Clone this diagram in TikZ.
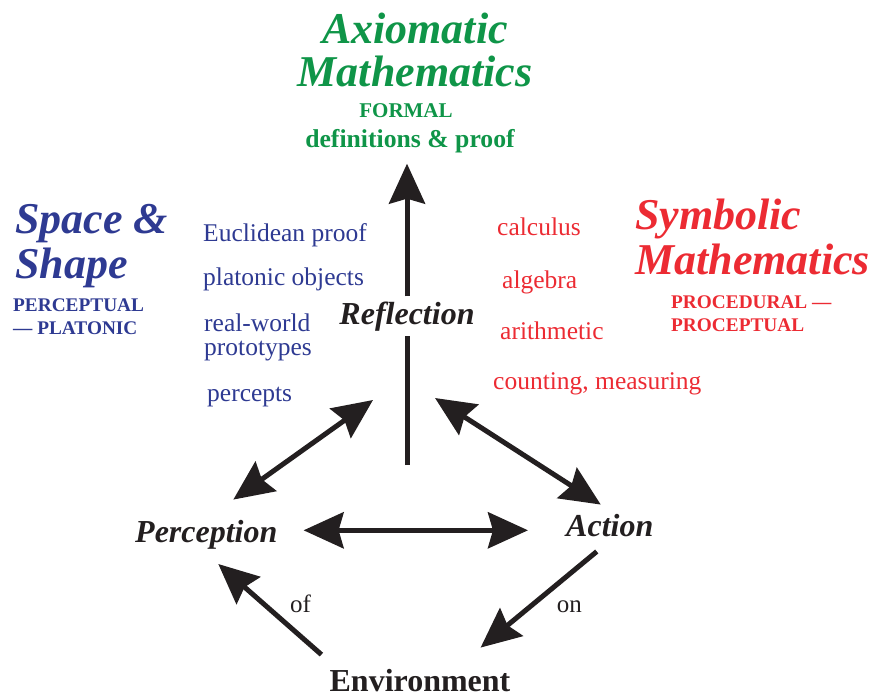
\documentclass[tikz,border=0pt]{standalone}
\usepackage{fontspec}
\setmainfont{Liberation Serif}
\usetikzlibrary{arrows.meta,positioning}
\definecolor{axGreen}{HTML}{0F9548}
\definecolor{spBlue}{HTML}{2E3A92}
\definecolor{syRed}{HTML}{EC2B33}
\definecolor{inkBlack}{HTML}{231F20}
\tikzset{
  worldtitle/.style={font=\fontsize{44}{44.5}\selectfont\bfseries\itshape, inner sep=0pt, align=left},
  worldtag/.style={font=\fontsize{19.3}{23}\selectfont\bfseries, inner sep=0pt, align=left},
  example/.style={font=\fontsize{25.5}{24}\selectfont, inner sep=0pt, align=left},
  stage/.style={font=\fontsize{32}{32}\selectfont\bfseries\itshape, inner sep=0pt, text=inkBlack},
  edgelabel/.style={font=\fontsize{25}{25}\selectfont, text=inkBlack, inner sep=0pt, anchor=base west},
  bigarrow/.style={draw=inkBlack, line width=5pt,
    -{Stealth[length=40pt,width=36pt,inset=5pt]}},
  twoarrow/.style={bigarrow,
    {Stealth[length=40pt,width=36pt,inset=5pt]}-{Stealth[length=40pt,width=36pt,inset=5pt]}}
}
\begin{document}
\begin{tikzpicture}[x=1pt,y=-1pt]
  \useasboundingbox (0,0) rectangle (876,696);
  % axiomatic world
  \node[worldtitle, align=center, text=axGreen, anchor=base, font=\fontsize{44}{42.5}\selectfont\bfseries\itshape] (axiom) at (415,86) {Axiomatic\\Mathematics};
  \node[worldtag, text=axGreen, anchor=base, font=\fontsize{21}{21}\selectfont\bfseries] (formal) at (406,117) {FORMAL};
  \node[worldtag, text=axGreen, anchor=base, font=\fontsize{25.7}{25.7}\selectfont\bfseries] (defs) at (410,147) {definitions \& proof};
  % space & shape
  \node[worldtitle, text=spBlue, anchor=base west] (space) at (15,278) {Space \&\\Shape};
  \node[worldtag, text=spBlue, anchor=base west] (percplat) at (13,334) {PERCEPTUAL\\— PLATONIC};
  \node[example, text=spBlue, anchor=base west] (euclid) at (203,241) {Euclidean proof};
  \node[example, text=spBlue, anchor=base west] (platonic) at (203,285) {platonic objects};
  \node[example, text=spBlue, anchor=base west] (realworld) at (204,355) {real-world\\prototypes};
  \node[example, text=spBlue, anchor=base west] (percepts) at (207,401) {percepts};
  % symbolic mathematics
  \node[worldtitle, text=syRed, anchor=base west] (symbolic) at (635,274) {Symbolic\\Mathematics};
  \node[worldtag, text=syRed, anchor=base west] (procept) at (671,331) {PROCEDURAL —\\PROCEPTUAL};
  \node[example, text=syRed, anchor=base west] (calculus) at (497,235) {calculus};
  \node[example, text=syRed, anchor=base west] (algebra) at (502,288) {algebra};
  \node[example, text=syRed, anchor=base west] (arith) at (500,339) {arithmetic};
  \node[example, text=syRed, anchor=base west] (counting) at (493,389) {counting, measuring};
  % stages
  \node[stage, anchor=base, inner sep=5pt] (refl) at (407,324) {Reflection};
  \node[stage, anchor=base west] (perc) at (135,542) {Perception};
  \node[stage, anchor=base west] (action) at (566,536) {Action};
  \node[stage, anchor=base, font=\fontsize{32}{32}\selectfont\bfseries] (env) at (420,691) {Environment};
  \coordinate (reflbase) at (407,465);
  % connectors
  \draw[draw=inkBlack, line width=5pt] (reflbase) -- (refl.south);
  \draw[bigarrow, shorten >=11pt] (refl.north) -- (refl.north |- defs.south);
  \draw[twoarrow] ([xshift=27pt,yshift=20pt]perc.north) -- ([xshift=-34pt,yshift=-64pt]refl.south);
  \draw[twoarrow] ([xshift=28pt,yshift=-62pt]refl.south) -- ([xshift=-9pt,yshift=9pt]action.north);
  \draw[twoarrow, shorten <=26pt, shorten >=38pt] ([yshift=4pt]perc.east) -- ([yshift=4pt]perc.east -| action.west);
  \draw[bigarrow] ([xshift=-8pt,yshift=14pt]env.north west) -- node[pos=0.55, edgelabel, xshift=23pt, yshift=-8pt] (of) {of} ([xshift=12pt,yshift=-15pt]perc.south);
  \draw[bigarrow] ([xshift=-13pt,yshift=-15pt]action.south) -- node[pos=0.45, edgelabel, xshift=10pt, yshift=-18pt] (on) {on} ([xshift=-30pt,yshift=21pt]env.north east);
\end{tikzpicture}
\end{document}
